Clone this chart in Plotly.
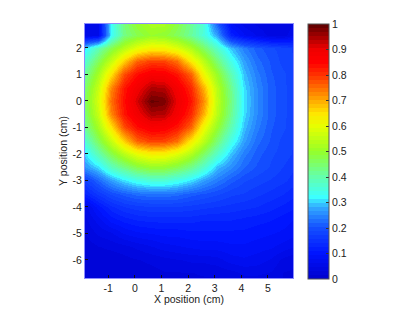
import plotly.graph_objects as go

# Grid (cm), z rows run top to bottom
x_pos = [-1.9, -1.4, -0.9, -0.4, 0.1, 0.6, 1.1, 1.6, 2.1, 2.6, 3.1, 3.6, 4.1, 4.6, 5.1, 5.6, 6.1]
y_pos = [3.0, 2.5, 2.0, 1.5, 1.0, 0.5, 0.0, -0.5, -1.0, -1.5, -2.0, -2.5, -3.0, -3.5, -4.0, -4.5, -5.0, -5.5, -6.0, -6.5, -7.0]
intensity = [
    [.05, .06, .33, .44, .50, .53, .53, .48, .42, .35, .20, .07, .05, .04, .03, .03, .05],
    [.05, .06, .32, .43, .47, .50, .49, .46, .41, .35, .27, .12, .08, .06, .04, .04, .07],
    [.30, .39, .47, .54, .60, .63, .625, .59, .53, .45, .37, .29, .24, .21, .19, .18, .165],
    [.36, .46, .56, .67, .76, .79, .785, .75, .64, .54, .44, .34, .27, .225, .20, .18, .17],
    [.41, .52, .65, .78, .84, .87, .865, .83, .76, .61, .50, .39, .29, .24, .205, .19, .17],
    [.44, .56, .73, .83, .89, .945, .94, .88, .81, .69, .54, .42, .305, .25, .21, .19, .175],
    [.45, .58, .75, .84, .92, .99, .98, .90, .83, .72, .55, .43, .31, .25, .21, .19, .175],
    [.44, .56, .73, .83, .89, .945, .94, .88, .81, .69, .54, .42, .305, .25, .21, .19, .175],
    [.41, .52, .65, .78, .84, .87, .865, .83, .76, .61, .50, .39, .29, .24, .205, .19, .17],
    [.36, .46, .56, .67, .76, .79, .785, .75, .64, .54, .44, .34, .27, .225, .20, .18, .17],
    [.30, .39, .47, .54, .60, .63, .625, .59, .53, .45, .37, .29, .24, .21, .19, .18, .165],
    [.26, .305, .38, .43, .475, .50, .495, .47, .425, .365, .29, .255, .22, .20, .185, .17, .155],
    [.17, .22, .27, .31, .34, .36, .36, .34, .31, .27, .24, .21, .19, .18, .17, .16, .145],
    [.12, .16, .19, .21, .225, .23, .23, .225, .21, .20, .19, .175, .17, .16, .15, .14, .125],
    [.05, .10, .135, .155, .165, .17, .17, .17, .165, .16, .155, .15, .145, .14, .13, .12, .11],
    [.04, .07, .10, .115, .125, .13, .13, .13, .13, .125, .125, .125, .12, .115, .11, .10, .09],
    [.03, .05, .06, .08, .09, .095, .10, .10, .105, .105, .105, .105, .105, .10, .095, .09, .08],
    [.02, .03, .035, .04, .05, .06, .07, .075, .08, .085, .085, .09, .09, .085, .08, .07, .06],
    [.02, .02, .02, .025, .03, .035, .04, .045, .05, .05, .055, .07, .075, .07, .06, .04, .03],
    [.02, .02, .02, .02, .02, .025, .03, .03, .03, .035, .035, .04, .05, .05, .045, .03, .03],
    [.02, .02, .02, .02, .02, .02, .02, .02, .02, .02, .02, .03, .03, .03, .03, .03, .03],
]
x_ticks = [-1, 0, 1, 2, 3, 4, 5]
x_labels = ['-1', '0', '1', '2', '3', '4', '5']
y_ticks = [2, 1, 0, -1, -2, -3, -4, -5, -6]
y_labels = ['2', '1', '0', '-1', '-2', '-3', '-4', '-5', '-6']
bar_ticks = [0, 0.1, 0.2, 0.3, 0.4, 0.5, 0.6, 0.7, 0.8, 0.9, 1]
bar_labels = ['0', '0.1', '0.2', '0.3', '0.4', '0.5', '0.6', '0.7', '0.8', '0.9', '1']

# Colour stops
stop_pos = [0, .1, .2, .28, .32, .4, .5, .6, .65, .7, .8, .85, .9, 1]
stop_rgb = [(0, 0, 205), (0, 20, 255), (20, 80, 255), (50, 170, 255), (60, 255, 255),
            (100, 255, 170), (150, 255, 40), (230, 255, 0), (255, 230, 0), (255, 170, 0),
            (255, 50, 0), (255, 0, 0), (240, 0, 0), (90, 0, 0)]
N_LEVELS = 64


def stop_colour(v):
    for i in range(len(stop_pos) - 1):
        if v <= stop_pos[i + 1]:
            t = (v - stop_pos[i]) / (stop_pos[i + 1] - stop_pos[i])
            c = [a + (b - a) * t for a, b in zip(stop_rgb[i], stop_rgb[i + 1])]
            return f'rgb({c[0]:.0f},{c[1]:.0f},{c[2]:.0f})'
    return 'rgb(90,0,0)'


# Stepped scale so the bands show, like the 64 colour map of the original
colorscale = []
for i in range(N_LEVELS):
    col = stop_colour((i + 0.5) / N_LEVELS)
    colorscale.append([i / N_LEVELS, col])
    colorscale.append([(i + 1) / N_LEVELS, col])

# The page body has an 8px margin, so the figure is smaller and positions shift by 8
W, H = 399, 297
PAGE = 8
FONT = dict(family='Liberation Sans, Arial, sans-serif', size=10.5, color='#222222')

fig = go.Figure(go.Heatmap(
    x=x_pos,
    y=y_pos,
    z=intensity,
    zmin=0,
    zmax=1,
    zsmooth='best',
    colorscale=colorscale,
    colorbar=dict(
        x=(308 - PAGE) / W,
        xanchor='left',
        y=(H - (279 - PAGE)) / H,
        yanchor='bottom',
        len=255 / H,
        thickness=21,
        xpad=0,
        ypad=0,
        outlinewidth=1,
        outlinecolor='#555555',
        ticks='inside',
        ticklen=3,
        tickcolor='#333333',
        tickvals=bar_ticks,
        ticktext=bar_labels,
        tickfont=FONT,
    ),
))
fig.update_xaxes(
    domain=[(85 - PAGE) / W, (293 - PAGE) / W],
    range=[-1.87, 5.94],
    tickvals=x_ticks,
    ticktext=x_labels,
    ticks='inside',
    ticklen=3,
    tickcolor='#111111',
    showgrid=False,
    zeroline=False,
    showline=True,
    linecolor='#8c8cff',
    mirror=True,
    tickfont=FONT,
    title=dict(text='X position (cm)', font=FONT, standoff=3),
)
fig.update_yaxes(
    domain=[1 - (278 - PAGE) / H, 1 - (24 - PAGE) / H],
    range=[-6.68, 2.9],
    tickvals=y_ticks,
    ticktext=y_labels,
    ticks='inside',
    ticklen=3,
    tickcolor='#111111',
    showgrid=False,
    zeroline=False,
    showline=True,
    linecolor='#8c8cff',
    mirror=True,
    tickfont=FONT,
    title=dict(text='Y position (cm)', font=FONT, standoff=2),
)
fig.update_layout(
    width=W,
    height=H,
    margin=dict(l=0, r=0, t=0, b=0),
    paper_bgcolor='white',
    plot_bgcolor='white',
    font=FONT,
)
fig.write_html("out.html")
